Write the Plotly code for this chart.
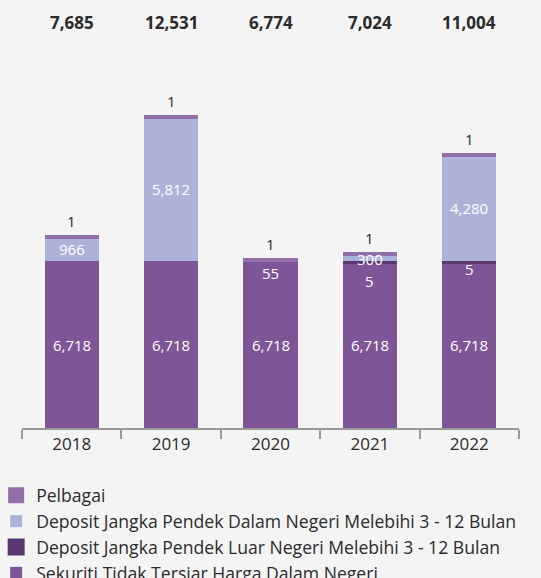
import plotly.graph_objects as go

years = ["2018", "2019", "2020", "2021", "2022"]
sekuriti = [6718, 6718, 6718, 6718, 6718]
deposit_luar = [0, 0, 0, 5, 5]
deposit_dalam = [966, 5812, 55, 300, 4280]
pelbagai = [1, 1, 1, 1, 1]
totals = [7685, 12531, 6774, 7024, 11004]

names = {
    "pel": "Pelbagai",
    "dalam": "Deposit Jangka Pendek Dalam Negeri Melebihi 3 - 12 Bulan",
    "luar": "Deposit Jangka Pendek Luar Negeri Melebihi 3 - 12 Bulan",
    "sek": "Sekuriti Tidak Tersiar Harga Dalam Negeri",
}
colors = {"sek": "#7e5596", "luar": "#5b3870", "dalam": "#adb3d8", "pel": "#926fa9"}

FONT = "Open Sans"
BW = 0.545

fig = go.Figure()
fig.add_bar(x=years, y=sekuriti, name=names["sek"], marker_color=colors["sek"],
            width=BW, marker_line_width=0)
fig.add_bar(x=years, y=[v if v else None for v in deposit_luar], name=names["luar"],
            marker_color=colors["luar"],
            width=BW - 0.06, marker_line_width=6, marker_line_color=colors["luar"])
fig.add_bar(x=years, y=deposit_dalam, name=names["dalam"], marker_color=colors["dalam"],
            width=BW, marker_line_width=0)
fig.add_bar(x=years, y=pelbagai, name=names["pel"], marker_color=colors["pel"],
            width=BW - 0.04, marker_line_width=4, marker_line_color=colors["pel"])

# pixel offsets for labels of segments too thin to hold their own text
dalam_shift = {2: -12, 3: -2}
luar_shift = {3: -20, 4: -8}

ann = []
for i, yr in enumerate(years):
    s = sekuriti[i]
    ann.append(dict(x=i, y=s / 2, text=f"{s:,}", showarrow=False,
                    font=dict(color="white", size=15, family=FONT)))
    base = s + deposit_luar[i]
    if deposit_luar[i]:
        ann.append(dict(x=i, y=s, text=f"{deposit_luar[i]:,}", showarrow=False,
                        yshift=luar_shift.get(i, -8),
                        font=dict(color="white", size=15, family=FONT)))
    d = deposit_dalam[i]
    ann.append(dict(x=i, y=base + d / 2, text=f"{d:,}", showarrow=False,
                    yshift=dalam_shift.get(i, 0),
                    font=dict(color="white", size=15, family=FONT)))
    top = base + d + pelbagai[i]
    ann.append(dict(x=i, y=top, text=f"{pelbagai[i]:,}", showarrow=False, yshift=16,
                    font=dict(color="#2b2b2b", size=15, family=FONT)))
    ann.append(dict(x=i, y=1, yref="paper", yanchor="middle", text=f"<b>{totals[i]:,}</b>",
                    showarrow=False, yshift=18,
                    font=dict(color="#2b2b2b", size=17, family=FONT)))

fig.update_layout(
    width=541, height=578,
    barmode="stack",
    paper_bgcolor="#f4f4f4", plot_bgcolor="#f4f4f4",
    margin=dict(l=22, r=22, t=40, b=150, autoexpand=False),
    font=dict(family=FONT, color="#2b2b2b", size=16),
    annotations=ann,
    showlegend=True,
    legend=dict(traceorder="reversed", orientation="v",
                x=-0.052, xanchor="left", y=-0.127, yanchor="top",
                font=dict(size=17.6, family=FONT, color="#2b2b2b"),
                bgcolor="rgba(0,0,0,0)"),
    xaxis=dict(type="category", range=[-0.5, 4.5], showline=True, linecolor="#9a9a9a",
               linewidth=1.5, ticks="outside", tickson="boundaries", ticklen=9,
               tickcolor="#9a9a9a", tickwidth=1.5, showgrid=False, automargin=False,
               tickfont=dict(size=17, family=FONT, color="#2b2b2b")),
    yaxis=dict(range=[0, 15640], visible=False, showgrid=False, zeroline=False),
)

fig.write_html("out.html", config={"displayModeBar": False},
               post_script="document.body.style.margin='0px';")
